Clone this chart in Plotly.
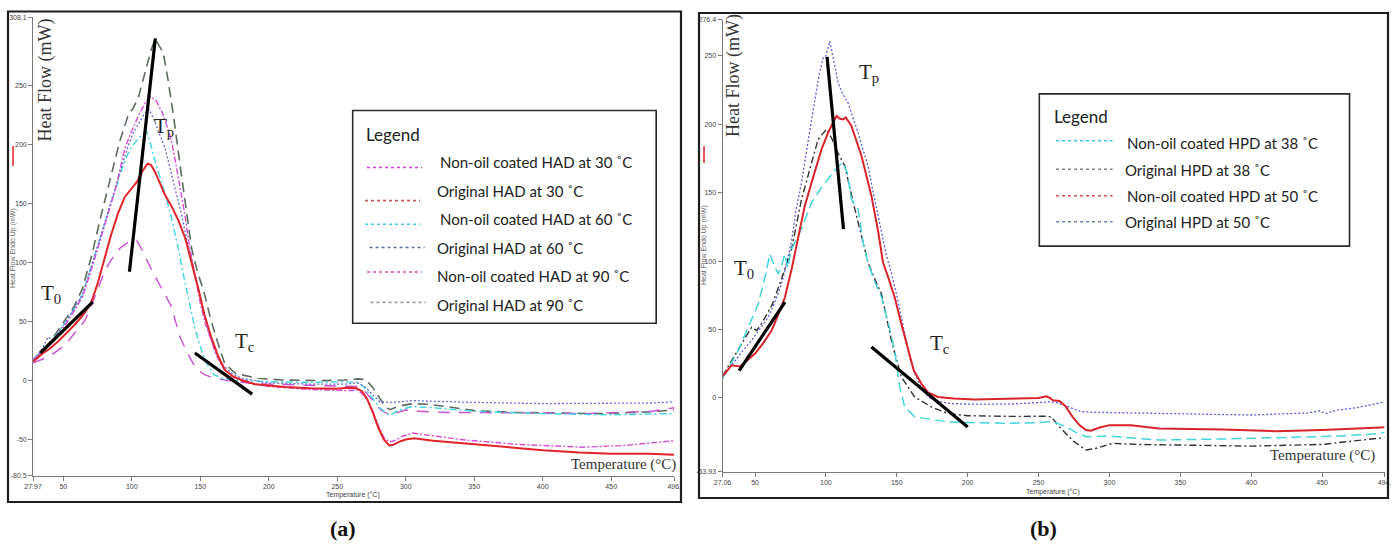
import plotly.graph_objects as go

W, H = 1394, 545

# ---------------- Panel (a) data ----------------
a_xticks = [27.97, 50, 100, 150, 200, 250, 300, 350, 400, 450, 496]
a_xtick_text = ["27.97", "50", "100", "150", "200", "250", "300", "350", "400", "450", "496."]
a_yticks = [-80.5, -50, 0, 50, 100, 150, 200, 250, 308.1]
a_ytick_text = ["-80.5", "-50", "0", "50", "100", "150", "200", "250", "308.1"]

a_red_T = [27.97, 32, 36, 40, 46, 52, 58, 64, 70, 75, 80, 85, 90, 95, 100, 104, 108, 111.5, 114, 117, 120, 124, 129, 134, 139,
           142.5, 146, 149, 153, 158, 163, 168, 174, 180, 190, 200, 212, 230, 250, 258, 264, 268, 272, 276, 280, 284, 288, 291,
           295, 300, 306, 320, 340, 360, 380, 400, 427, 450, 478, 496]
a_red_V = [16, 20, 24, 27, 33, 40, 47, 55, 65, 82, 103, 124, 142, 156, 163, 169, 178, 184, 183, 177, 169, 158, 148, 136, 121,
           106, 90, 76, 56, 37, 21, 9, 3.5, 0.5, -3, -4, -5.4, -6.5, -7, -6, -6.5, -9, -16, -27, -40, -50, -55, -54.5,
           -52, -50, -49, -51, -53, -55, -57, -59, -61, -62, -62, -63]

a_gray_T = [27.97, 34, 40, 46, 52, 58, 64, 70.7, 78, 85.3, 91, 97.5, 101, 104.8, 110, 114, 117, 119, 123, 126.5, 130.3, 135,
            140, 143.7, 148, 152.3, 157, 162, 168, 176, 192, 210, 240, 255, 265, 271, 276, 281, 285, 288.5, 292, 298, 305,
            315, 330, 350, 380, 410, 440, 470, 496]
a_gray_V = [17, 24, 32, 42, 52, 63, 78, 106, 142, 175, 202, 225.6, 231, 240, 262, 280, 290, 286, 278, 255, 226, 185,
            142, 112, 92, 77, 55, 35, 14, 6, 2, 0.5, 0, 0.5, 1.5, 0.8, -6, -15, -22, -24.7, -23, -21, -19.6,
            -20, -22, -25.5, -27, -27.5, -28, -27, -25]

a_blue_T = [27.97, 33, 36, 39, 42, 46, 52, 58, 64, 70, 76, 82, 88, 93, 97, 101, 105, 109, 112.6, 116, 120, 124.2, 128, 132,
            136.4, 140, 144, 148, 152, 156, 160, 165, 172, 180, 200, 230, 255, 265, 270, 276, 281, 290, 305, 320, 350,
            400, 450, 480, 496]
a_blue_V = [18, 24, 30, 37, 34, 40, 50, 61, 73, 95, 118, 140, 162, 182, 198, 210, 218, 226, 230, 222, 210, 197.5, 180, 162,
            140.6, 120, 100, 80, 60, 42, 28, 15, 7, 2, -2, -3, -3, -2, -5, -12, -18, -18.5, -17, -17.5, -18.5,
            -19.5, -19.5, -19, -18]

a_mag_T = [27.97, 34, 40, 46, 52, 58, 64, 70, 76, 82, 88, 92, 95, 100, 105, 110, 114, 118, 122, 126, 129.1, 132, 135, 138.8,
           142, 146, 150, 154, 158, 162, 167, 174, 182, 200, 230, 255, 265, 270, 275, 280, 284, 288, 292, 298, 305, 320,
           340, 360, 380, 410, 430, 460, 480, 496]
a_mag_V = [17, 24, 30, 38, 48, 59, 71, 92, 115, 138, 162, 182, 197.5, 212, 225, 236, 241, 237, 228, 215, 203, 185, 165, 140.6,
           115, 90, 66, 47, 33, 21, 10, 3, -1, -5, -7.5, -8.5, -8, -13, -23, -38, -48, -52, -51, -47, -44.5, -47,
           -50, -52, -54, -55.5, -56.5, -55, -53, -51]

a_cyan_T = [27.97, 34, 40, 46, 52, 58, 64, 70, 76, 82, 88, 93, 97, 101, 106, 110.9, 114, 116, 119.4, 124, 129, 134, 138, 142,
            146, 148.6, 152, 156, 160, 166, 175, 200, 230, 255, 265, 270, 276, 281, 288, 295, 305, 320, 350, 400, 450, 496]
a_cyan_V = [18, 25, 32, 40, 50, 61, 73, 94, 117, 140, 162, 180, 192, 200, 207, 211, 200, 190, 177, 160, 138, 112, 88, 65,
            45, 34, 22, 12, 5, 2, 0.5, -1, -1.5, -1, -1.5, -6, -15, -23, -29.5, -25, -22, -23, -26, -28, -29, -28]

a_pink_T = [27.97, 32, 36.7, 44, 51.3, 58, 65.8, 72, 80.5, 86, 91.6, 97, 103.6, 108, 112, 114.5, 120, 125, 129.1, 132, 135.2,
            140, 145, 148.6, 153, 158.3, 170, 185, 200, 230, 255, 265, 270, 276, 282, 288.5, 294, 300, 308, 330, 360, 400,
            430, 460, 480, 496]
a_pink_V = [15, 17, 19, 24, 30, 40, 51, 68, 93.8, 104, 112.5, 117, 119, 110, 100, 93.8, 82, 72, 62.6, 50, 37,
            25, 14, 8.8, 5, 3, 0, -2, -3, -4, -5, -5, -9, -17, -25, -29.5, -27, -25, -26, -27, -27, -27.5,
            -28, -27, -26, -23]

# tangent construction lines (T, value)
a_t0_T = [33.15, 71.55]
a_t0_V = [23.4, 66.8]
a_tp_T = [98.3, 117.2]
a_tp_V = [92.3, 290.3]
a_tc_T = [146.1, 187.9]
a_tc_V = [23.4, -11.5]

a_legend_labels = ["Non-oil coated HAD at 30 ˚C", "Original HAD at 30 ˚C", "Non-oil coated HAD at 60 ˚C",
                   "Original HAD at 60 ˚C", "Non-oil coated HAD at 90 ˚C", "Original HAD at 90 ˚C"]

# ---------------- Panel (b) data ----------------
b_xticks = [27.06, 50, 100, 150, 200, 250, 300, 350, 400, 450, 494]
b_xtick_text = ["27.06", "50", "100", "150", "200", "250", "300", "350", "400", "450", "494."]
b_yticks = [-53.93, 0, 50, 100, 150, 200, 250, 276.4]
b_ytick_text = ["-53.93", "0", "50", "100", "150", "200", "250", "276.4"]

b_cyan_T = [27.06, 27.6, 33, 38.2, 45.2, 52.3, 57, 60.5, 62, 64, 66.4, 68.5, 71, 73, 75.8, 82.8, 89.9, 96.9, 101.6, 106,
            111.7, 115, 118, 122.7, 126.2, 129.7, 134, 139.2, 144, 148.5, 152, 155.6, 162.6, 175, 186.1, 200, 230, 250,
            257.7, 263, 269.5, 276, 283.5, 300, 335, 380, 420, 460, 491.3, 494]
b_cyan_V = [14, 15.3, 25, 34.8, 51.7, 68.8, 88.2, 105.2, 101, 95.5, 90.7, 96, 105.2, 95, 108.9, 123.5, 142.9, 153.8, 160, 166,
            172, 165, 145.3, 138, 113.7, 99, 86, 73.6, 55, 34.8, 8, -6.6, -13.8, -16, -17.5, -18, -18.5, -18,
            -17.5, -18.5, -21, -25, -28.4, -27.9, -30.8, -30, -29, -28, -26, -25]

b_black_T = [27.06, 33, 40.6, 47.6, 51.1, 55, 62, 68, 75.8, 82.8, 88, 94.5, 100.4, 104, 108, 113.3, 120.4, 125.1, 129.7,
             134, 139.2, 146.2, 153.2, 162.6, 174.4, 186.1, 200, 230, 255.4, 259, 264.7, 275, 283.5, 290, 302.3, 320,
             350, 400, 450, 491.3, 494]
b_black_V = [16, 26, 39.6, 51.7, 49.3, 55, 68, 85, 108.9, 145.3, 165, 189, 196.3, 190, 180, 169.6, 138, 118.6, 99,
             88, 76, 42, 15.3, 0.7, -6.6, -11.4, -13, -13.5, -13.4, -14, -21.1, -32, -38.1, -37, -33.2, -34,
             -34.5, -35.2, -34, -29.6, -29]

b_red_T = [27.06, 28, 33.5, 39.4, 44, 50, 55, 61.7, 66, 71.1, 76, 80.4, 85, 89.9, 96.9, 102, 107.5, 110, 112.1, 114, 118,
           125.1, 132.1, 136.8, 140.3, 144, 148.5, 153, 157.9, 162, 167.3, 172, 179, 190, 205, 243.6, 250, 255.4, 258,
           260, 264.7, 269, 274, 279, 283.5, 287, 292, 299.9, 315, 335, 380, 417.3, 450, 491.3, 494]
b_red_V = [16, 17, 23.8, 23, 27, 32.4, 39, 49.3, 60, 73.6, 95, 118, 140, 157.4, 181.8, 195, 206, 204, 203.6, 205, 198.8,
           176.9, 147.7, 122, 99, 88, 73.6, 55, 34.8, 20, 10.5, 4, 0.7, -0.5, -1.2, -0.5, 0, 1.2, 0,
           -1.7, -2.2, -6, -13.8, -20, -23.5, -24, -22, -19.9, -20, -22.3, -23, -24.3, -23.5, -21.6, -21.5]

b_blue_T = [27.06, 30, 35.9, 41, 47.6, 53, 59.3, 64, 68.7, 72, 75.8, 79, 82.8, 87, 92.2, 95, 98, 100, 102.8, 105, 108.6,
            112, 115.6, 119, 122.7, 126, 129.7, 133, 136.8, 140, 142.7, 146, 150, 155.6, 159, 162.6, 167, 172, 180,
            186.1, 200, 230, 250, 257.7, 263, 270, 280, 290, 320, 350, 400, 440, 448, 452.7, 460, 475, 490, 494]
b_blue_V = [15, 19, 27.5, 34, 42, 50, 59, 70, 83.4, 97, 115, 138, 157.4, 185, 215.7, 235, 248.5, 250, 260.7, 250, 230.3,
            222, 215.7, 205, 193.9, 182, 169.6, 152, 133.2, 115, 104, 92, 75, 47, 30, 17.8, 8, 0.7, -2.5,
            -4, -4.5, -4.5, -3.5, -2.9, -3.5, -6, -10, -10.5, -11, -11.8, -12.5, -11, -9.5, -11.4, -9, -7, -3.6, -3]

b_t0_T = [38.8, 71.1]
b_t0_V = [20, 70]
b_tp_T = [100.8, 112.4]
b_tp_V = [249.3, 123.4]
b_tc_T = [132.1, 200]
b_tc_V = [37.2, -21.3]

b_legend_labels = ["Non-oil coated HPD at 38 ˚C", "Original HPD at 38 ˚C", "Non-oil coated HPD at 50 ˚C",
                   "Original HPD at 50 ˚C"]

# ---------------- figure ----------------
fig = go.Figure()


def curve(T, V, color, dash, width, axis):
    xa, ya = ("x", "y") if axis == "a" else ("x2", "y2")
    fig.add_trace(go.Scatter(x=T, y=V, mode="lines", line=dict(color=color, dash=dash, width=width),
                             xaxis=xa, yaxis=ya, showlegend=False, hoverinfo="skip"))


# panel a curves
curve(a_gray_T, a_gray_V, "#5d6d5d", "10px,6px", 1.6, "a")
curve(a_pink_T, a_pink_V, "#c94fd0", "12px,9px", 1.4, "a")
curve(a_cyan_T, a_cyan_V, "#3fd3e3", "7px,3px,2px,3px", 1.4, "a")
curve(a_blue_T, a_blue_V, "#6a6ad8", "2px,2px", 1.3, "a")
curve(a_mag_T, a_mag_V, "#d94cd9", "6px,2px,2px,2px", 1.4, "a")
curve(a_red_T, a_red_V, "#e0242a", "solid", 2.0, "a")
for T, V in [(a_t0_T, a_t0_V), (a_tp_T, a_tp_V), (a_tc_T, a_tc_V)]:
    curve(T, V, "#000000", "solid", 3.2, "a")

# panel b curves
curve(b_blue_T, b_blue_V, "#5c5ce0", "2px,2px", 1.3, "b")
curve(b_black_T, b_black_V, "#333333", "7px,3px,2px,3px", 1.4, "b")
curve(b_cyan_T, b_cyan_V, "#45d3dc", "10px,5px", 1.5, "b")
curve(b_red_T, b_red_V, "#d8232a", "solid", 2.0, "b")
for T, V in [(b_t0_T, b_t0_V), (b_tp_T, b_tp_V), (b_tc_T, b_tc_V)]:
    curve(T, V, "#000000", "solid", 3.2, "b")

tickfont = dict(size=7, family="Liberation Sans, Arial, sans-serif", color="#444")
common_axis = dict(showgrid=False, zeroline=False, showline=True, linecolor="#7a7a7a", linewidth=1,
                   ticks="outside", ticklen=4, tickcolor="#7a7a7a", tickfont=tickfont, tickmode="array",
                   automargin=False)

fig.update_layout(
    width=W, height=H, margin=dict(l=0, r=0, t=0, b=0, pad=0, autoexpand=False),
    paper_bgcolor="white", plot_bgcolor="white",
    xaxis=dict(domain=[33.1 / W, 674.2 / W], range=[27.97, 496], tickvals=a_xticks, ticktext=a_xtick_text,
               anchor="y", **common_axis),
    yaxis=dict(domain=[(H - 475.5) / H, (H - 17.4) / H], range=[-80.5, 308.1], tickvals=a_yticks,
               ticktext=a_ytick_text, anchor="x", **common_axis),
    xaxis2=dict(domain=[722.5 / W, 1384.5 / W], range=[27.06, 494], tickvals=b_xticks, ticktext=b_xtick_text,
                anchor="y2", **common_axis),
    yaxis2=dict(domain=[(H - 471.7) / H, (H - 19.8) / H], range=[-53.93, 276.4], tickvals=b_yticks,
                ticktext=b_ytick_text, anchor="x2", **common_axis),
)

shapes = []
annotations = []


def P(x, y):
    return x / W, 1 - y / H


def rect(x0, y0, x1, y1, color, width):
    a0, b0 = P(x0, y0)
    a1, b1 = P(x1, y1)
    shapes.append(dict(type="rect", xref="paper", yref="paper", x0=a0, y0=b1, x1=a1, y1=b0,
                       line=dict(color=color, width=width), fillcolor="rgba(0,0,0,0)"))


def seg(x0, y0, x1, y1, color, width, dash="solid"):
    a0, b0 = P(x0, y0)
    a1, b1 = P(x1, y1)
    shapes.append(dict(type="line", xref="paper", yref="paper", x0=a0, y0=b0, x1=a1, y1=b1,
                       line=dict(color=color, width=width, dash=dash)))


def ann(x, y, text, size, family, color="#222", xanchor="center", yanchor="middle", angle=0, weight="normal"):
    a, b = P(x, y)
    annotations.append(dict(x=a, y=b, xref="paper", yref="paper", text=text, showarrow=False,
                            font=dict(size=size, family=family, color=color, weight=weight), xanchor=xanchor,
                            yanchor=yanchor, textangle=angle))


SERIF = "Liberation Serif, Times New Roman, serif"
SANS = "Lato, Liberation Sans, sans-serif"
SMALL = "Liberation Sans, Arial, sans-serif"

# outer panel frames
rect(8, 11.5, 681, 502, "#1e1e1e", 2.2)
rect(699, 13, 1388, 498, "#1e1e1e", 2.2)

# panel a texts
ann(44.5, 80, "Heat Flow (mW)", 18, SERIF, "#333", angle=-90)
ann(13, 248, "Heat Flow Endo Up (mW)", 7, SMALL, "#666", angle=-90)
seg(13, 146, 13, 166, "#e0242a", 1.5)
ann(353, 495, "Temperature (°C)", 7, SMALL, "#444")
ann(623, 464, "Temperature (°C)", 15, SERIF, "#333")
ann(51, 294, "T<sub>0</sub>", 21, SERIF, "#222")
ann(164, 127, "T<sub>p</sub>", 21, SERIF, "#222")
ann(245, 342, "T<sub>c</sub>", 21, SERIF, "#222")
ann(343, 528, "(a)", 22, SERIF, "#111", weight="bold")

# panel a legend
rect(352.7, 110.5, 656.2, 323.3, "#2a2a2a", 1.6)
ann(364, 134, "Legend", 17, SANS, "#222", xanchor="left")
a_text_y = [161.6, 190.5, 219, 247.5, 276.3, 305]
a_text_x = [437.5, 435, 437.5, 435, 435, 435]
a_samp_y = [167.5, 200.6, 224.2, 247.5, 272, 302.4]
a_samp_x0 = [367, 365, 365, 369.6, 367, 370.5]
a_samp_col = ["#d040d0", "#c06060", "#40c8f0", "#6070a8", "#e050c0", "#a0a0a0"]
for lab, tx, ty, sy, sx, sc in zip(a_legend_labels, a_text_x, a_text_y, a_samp_y, a_samp_x0, a_samp_col):
    seg(sx, sy, sx + 55, sy, sc, 1.6, "dot")
    ann(tx, ty, lab, 15, SANS, "#222", xanchor="left")

# panel b texts
ann(733, 76, "Heat Flow (mW)", 18, SERIF, "#333", angle=-90)
ann(704, 245, "Heat Flow Endo Up (mW)", 7, SMALL, "#666", angle=-90)
seg(704, 146, 704, 163, "#d8232a", 1.5)
ann(1053, 492, "Temperature (°C)", 7, SMALL, "#444")
ann(1322, 455, "Temperature (°C)", 15, SERIF, "#333")
ann(744, 269, "T<sub>0</sub>", 21, SERIF, "#222")
ann(869, 73, "T<sub>p</sub>", 21, SERIF, "#222")
ann(940, 344, "T<sub>c</sub>", 21, SERIF, "#222")
ann(1043, 528, "(b)", 22, SERIF, "#111", weight="bold")

# panel b legend
rect(1039.3, 93.9, 1349.5, 246.1, "#2a2a2a", 1.6)
ann(1052, 116, "Legend", 17, SANS, "#222", xanchor="left")
b_text_y = [142.5, 169.6, 195.7, 221.8]
b_text_x = [1124.6, 1122.8, 1124.6, 1122.8]
b_samp_y = [140.8, 169.3, 195.7, 221.8]
b_samp_col = ["#40c0f0", "#808080", "#e05050", "#7080b0"]
for lab, tx, ty, sy, sc in zip(b_legend_labels, b_text_x, b_text_y, b_samp_y, b_samp_col):
    seg(1056, sy, 1112.6, sy, sc, 1.6, "dot")
    ann(tx, ty, lab, 15, SANS, "#222", xanchor="left")

fig.update_layout(shapes=shapes, annotations=annotations)
fig.write_html("out.html", config={"displayModeBar": False, "staticPlot": True},
               post_script="document.body.style.margin='0px';document.body.style.padding='0px';")
